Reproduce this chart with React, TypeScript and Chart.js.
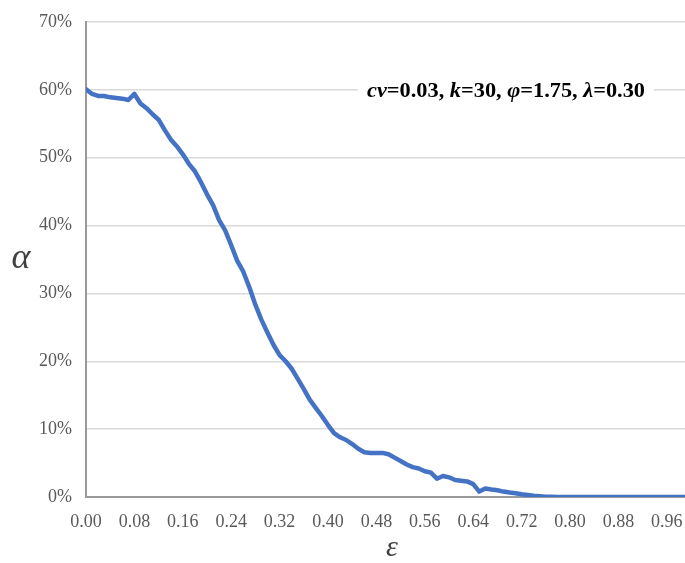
import React, { useEffect, useRef } from "react";
import { Chart, registerables } from "chart.js";

Chart.register(...registerables);

// ε values (x) and α values in % (y)
const epsilon = [
  0.00, 0.01, 0.02, 0.03, 0.04, 0.05, 0.06, 0.07, 0.08, 0.09,
  0.10, 0.11, 0.12, 0.13, 0.14, 0.15, 0.16, 0.17, 0.18, 0.19,
  0.20, 0.21, 0.22, 0.23, 0.24, 0.25, 0.26, 0.27, 0.28, 0.29,
  0.30, 0.31, 0.32, 0.33, 0.34, 0.35, 0.36, 0.37, 0.38, 0.39,
  0.40, 0.41, 0.42, 0.43, 0.44, 0.45, 0.46, 0.47, 0.48, 0.49,
  0.50, 0.51, 0.52, 0.53, 0.54, 0.55, 0.56, 0.57, 0.58, 0.59,
  0.60, 0.61, 0.62, 0.63, 0.64, 0.65, 0.66, 0.67, 0.68, 0.69,
  0.70, 0.71, 0.72, 0.73, 0.74, 0.75, 0.76, 0.77, 0.78, 0.79,
  0.80, 0.81, 0.82, 0.83, 0.84, 0.85, 0.86, 0.87, 0.88, 0.89,
  0.90, 0.91, 0.92, 0.93, 0.94, 0.95, 0.96, 0.97, 0.98, 0.99,
];

const alphaPct = [
  60.1, 59.4, 59.1, 59.1, 58.9, 58.8, 58.7, 58.5, 59.4, 58.0,
  57.3, 56.4, 55.6, 54.1, 52.7, 51.7, 50.5, 49.1, 48.0, 46.4,
  44.6, 43.0, 40.8, 39.3, 37.1, 34.8, 33.2, 30.9, 28.3, 26.1,
  24.2, 22.4, 20.9, 20.0, 18.9, 17.4, 15.9, 14.3, 13.1, 11.9,
  10.6, 9.4, 8.8, 8.4, 7.8, 7.1, 6.6, 6.5, 6.5, 6.5,
  6.3, 5.8, 5.3, 4.8, 4.4, 4.2, 3.8, 3.6, 2.7, 3.1,
  2.9, 2.5, 2.4, 2.3, 1.9, 0.8, 1.25, 1.1, 1.0, 0.8,
  0.65, 0.55, 0.4, 0.3, 0.2, 0.12, 0.05, 0.02, 0, 0,
  0, 0, 0, 0, 0, 0, 0, 0, 0, 0,
  0, 0, 0, 0, 0, 0, 0, 0, 0, 0,
];

const xTickLabels = ["0.00", "0.08", "0.16", "0.24", "0.32", "0.40", "0.48", "0.56", "0.64", "0.72", "0.80", "0.88", "0.96"];
const yTickValues = [0, 10, 20, 30, 40, 50, 60, 70];

const annotationRuns: [string, boolean][] = [
  ["cv", true], ["=0.03, ", false], ["k", true], ["=30, ", false],
  ["φ", true], ["=1.75, ", false], ["λ", true], ["=0.30", false],
];

const SERIF = "'Liberation Serif', 'Times New Roman', serif";

const textPlugin = {
  id: "customText",
  afterDatasetsDraw(chart: any) {
    const ctx = chart.ctx;
    ctx.save();
    const startX = 367;
    const baseY = 97;
    const size = 22;
    let total = 0;
    for (const [t, it] of annotationRuns) {
      ctx.font = `${it ? "italic " : ""}bold ${size}px ${SERIF}`;
      total += ctx.measureText(t).width;
    }
    const scaleX = 278 / total;
    ctx.fillStyle = "#ffffff";
    ctx.fillRect(startX - 9, baseY - 20, 278 + 18, 26);
    ctx.fillStyle = "#000000";
    ctx.textBaseline = "alphabetic";
    ctx.textAlign = "left";
    ctx.translate(startX, baseY);
    ctx.scale(scaleX, 1);
    let x = 0;
    for (const [t, it] of annotationRuns) {
      ctx.font = `${it ? "italic " : ""}bold ${size}px ${SERIF}`;
      ctx.fillText(t, x, 0);
      x += ctx.measureText(t).width;
    }
    ctx.setTransform(1, 0, 0, 1, 0, 0);
    // axis titles
    ctx.fillStyle = "#404040";
    ctx.textAlign = "center";
    ctx.textBaseline = "middle";
    ctx.font = `italic 36px ${SERIF}`;
    ctx.fillText("α", 21, 259);
    ctx.font = `italic 30px ${SERIF}`;
    ctx.fillText("ε", 392, 548);
    ctx.restore();
  },
};

export default function App() {
  const ref = useRef<HTMLCanvasElement>(null);
  useEffect(() => {
    document.body.style.margin = "0";
    const chart = new Chart(ref.current!, {
      type: "line",
      data: {
        datasets: [
          {
            data: epsilon.map((e, i) => ({ x: e, y: alphaPct[i] })),
            borderColor: "#4472C4",
            borderWidth: 4.5,
            pointRadius: 0,
            tension: 0,
            borderJoinStyle: "round",
            borderCapStyle: "round",
            fill: false,
          },
        ],
      },
      options: {
        animation: false,
        responsive: false,
        maintainAspectRatio: false,
        layout: { padding: { top: 22, right: 0, left: 0, bottom: 0 } },
        plugins: { legend: { display: false }, tooltip: { enabled: false } },
        scales: {
          x: {
            type: "linear",
            min: 0,
            max: 0.99,
            grid: { display: false, drawTicks: false },
            border: { display: true, color: "#9a9a9a", width: 2 },
            afterBuildTicks: (scale: any) => {
              scale.ticks = xTickLabels.map((s) => ({ value: parseFloat(s) }));
            },
            ticks: {
              autoSkip: false,
              maxRotation: 0,
              padding: 14,
              color: "#595959",
              font: { family: SERIF, size: 18 },
              callback: (v: any) => Number(v).toFixed(2),
            },
            afterFit: (scale: any) => {
              scale.height = 66;
              scale.paddingLeft = 0;
              scale.paddingRight = 0;
            },
          },
          y: {
            min: 0,
            max: 70,
            grid: { color: "#d9d9d9", lineWidth: 1.5, drawTicks: false },
            border: { display: true, color: "#9a9a9a", width: 2 },
            afterBuildTicks: (scale: any) => {
              scale.ticks = yTickValues.map((v) => ({ value: v }));
            },
            ticks: {
              padding: 14,
              color: "#595959",
              font: { family: SERIF, size: 18 },
              callback: (v: any) => `${v}%`,
            },
            afterFit: (scale: any) => {
              scale.width = 86;
              scale.paddingTop = 0;
              scale.paddingBottom = 0;
            },
          },
        },
      },
      plugins: [textPlugin],
    } as any);
    return () => chart.destroy();
  }, []);
  return (
    <div style={{ position: "absolute", left: 0, top: 0, width: 685, height: 563, background: "#fff" }}>
      <canvas ref={ref} width={685} height={563} style={{ width: 685, height: 563 }} />
    </div>
  );
}
